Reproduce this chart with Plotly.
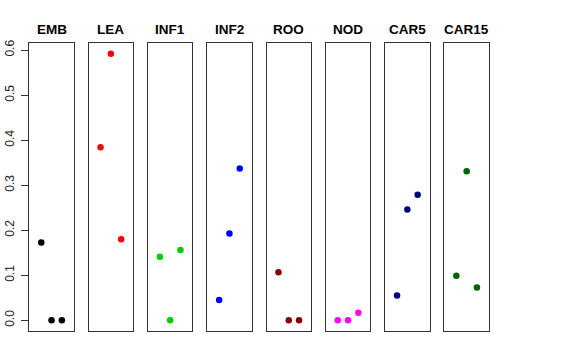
import plotly.graph_objects as go

tissues = ["EMB", "LEA", "INF1", "INF2", "ROO", "NOD", "CAR5", "CAR15"]
colors = ["#000000", "#FF0000", "#00CD00", "#0000FF", "#8B0000", "#FF00FF", "#000080", "#006400"]
x_pos = [1, 2, 3]
emb = [0.173, 0.0, 0.0]
lea = [0.384, 0.592, 0.180]
inf1 = [0.141, 0.0, 0.156]
inf2 = [0.045, 0.193, 0.337]
roo = [0.107, 0.0, 0.0]
nod = [0.0, 0.0, 0.017]
car5 = [0.055, 0.246, 0.279]
car15 = [0.099, 0.331, 0.073]
series = [emb, lea, inf1, inf2, roo, nod, car5, car15]
y_ticks = [0.0, 0.1, 0.2, 0.3, 0.4, 0.5, 0.6]
y_labels = ["0.0", "0.1", "0.2", "0.3", "0.4", "0.5", "0.6"]

W, H = 576, 360
left0, pw, step = 29.3, 44.5, 59.3
ytop, ybot = 43, 331
title_y = 29

fig = go.Figure()
layout = dict(
    width=W, height=H, margin=dict(l=0, r=0, t=0, b=0, autoexpand=False),
    paper_bgcolor="white", plot_bgcolor="white", showlegend=False,
    font=dict(family="Liberation Sans, Arial, sans-serif", color="black"),
)
annotations = []
for i, (name, vals, col) in enumerate(zip(tissues, series, colors)):
    n = "" if i == 0 else str(i + 1)
    fig.add_trace(go.Scatter(
        x=x_pos, y=vals, mode="markers", xaxis="x" + n, yaxis="y" + n,
        marker=dict(color=col, size=6.5), hoverinfo="skip"))
    x0 = (left0 + step * i) / W
    x1 = (left0 + step * i + pw) / W
    layout["xaxis" + n] = dict(
        domain=[x0, x1], range=[-0.16, 4.16], showticklabels=False, ticks="",
        showgrid=False, zeroline=False, showline=True, mirror=True,
        linecolor="#333333", linewidth=1, anchor="y" + n, fixedrange=True,
        automargin=False)
    ya = dict(
        domain=[(H - ybot) / H, (H - ytop) / H], range=[-0.0237, 0.6157],
        showgrid=False, zeroline=False, showline=True, mirror=True,
        linecolor="#333333", linewidth=1, anchor="x" + n, fixedrange=True,
        automargin=False)
    if i == 0:
        ya.update(tickmode="array", tickvals=y_ticks, ticktext=y_labels,
                  ticks="outside", ticklen=7, tickcolor="#333333",
                  tickangle=-90, tickfont=dict(size=12, color="#222222"),
                  ticklabelstandoff=3)
    else:
        ya.update(showticklabels=False, ticks="")
    layout["yaxis" + n] = ya
    annotations.append(dict(
        text="<b>" + name + "</b>", x=(x0 + x1) / 2, y=(H - title_y) / H,
        xref="paper", yref="paper", showarrow=False, xanchor="center",
        yanchor="middle", font=dict(size=13.5, color="black")))
layout["annotations"] = annotations
fig.update_layout(**layout)
fig.write_html(
    "out.html",
    config={"displayModeBar": False, "staticPlot": True},
    post_script="document.body.style.margin='0';document.body.style.overflow='hidden';",
)
